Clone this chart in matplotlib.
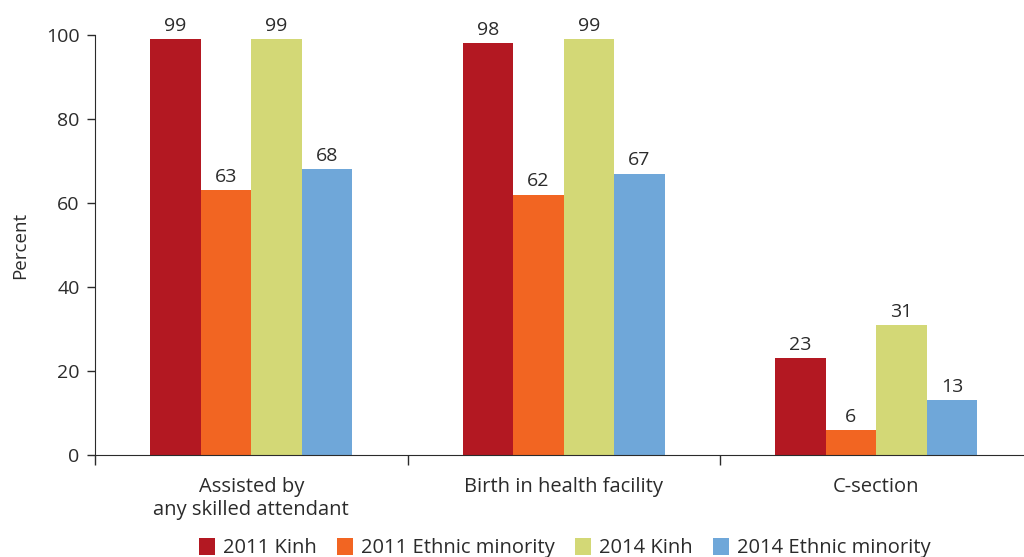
import matplotlib.pyplot as plt
import numpy as np

# data
categories = ["Assisted by\nany skilled attendant", "Birth in health facility", "C-section"]
series_names = ["2011 Kinh", "2011 Ethnic minority", "2014 Kinh", "2014 Ethnic minority"]
kinh_2011 = [99, 98, 23]
ethnic_2011 = [63, 62, 6]
kinh_2014 = [99, 99, 31]
ethnic_2014 = [68, 67, 13]
colors = ["#B31822", "#F26522", "#D3D876", "#6FA7D9"]

plt.rcParams['font.family'] = ['Open Sans', 'DejaVu Sans']
txt = "#2b2b2b"

fig = plt.figure(figsize=(10.24, 5.57), dpi=100)
ax = fig.add_axes([95/1024, (557-455)/557, 937.5/1024, 420/557])

x = np.arange(len(categories))
w = 0.1617
all_series = [kinh_2011, ethnic_2011, kinh_2014, ethnic_2014]
for i, (vals, name, c) in enumerate(zip(all_series, series_names, colors)):
    pos = x + (i - 1.5) * w
    ax.bar(pos, vals, width=w, color=c, label=name, linewidth=0)
    for p, v in zip(pos, vals):
        ax.text(p, v + 1.0, str(v), ha="center", va="bottom", fontsize=14,
                color=txt, clip_on=False)

ax.set_xlim(-0.5, 2.5)
ax.set_ylim(0, 100)
ax.set_yticks([0, 20, 40, 60, 80, 100])
ax.tick_params(axis="y", labelsize=14, colors=txt, length=6, width=1, pad=5)

# category boundaries as ticks, labels as minor
ax.set_xticks([-0.5, 0.5, 1.5, 2.5])
ax.set_xticklabels([])
ax.tick_params(axis="x", which="major", length=7, width=1, color=txt)
ax.set_xticks(x, minor=True)
ax.set_xticklabels(categories, minor=True, fontsize=14.5, color=txt, linespacing=1.2)
ax.tick_params(axis="x", which="minor", length=0, pad=16)

for s in ["top", "right"]:
    ax.spines[s].set_visible(False)
ax.spines["left"].set_color(txt)
ax.spines["bottom"].set_color(txt)

ax.set_ylabel("Percent", fontsize=13.5, color=txt, labelpad=12)

fig.legend(loc="center", bbox_to_anchor=(565/1024, 1 - 548/557), ncol=4, frameon=False,
           fontsize=14.5, handlelength=0.8, handleheight=0.9, handletextpad=0.4,
           columnspacing=1.0, labelcolor=txt)

plt.savefig("out.png", dpi=100)
